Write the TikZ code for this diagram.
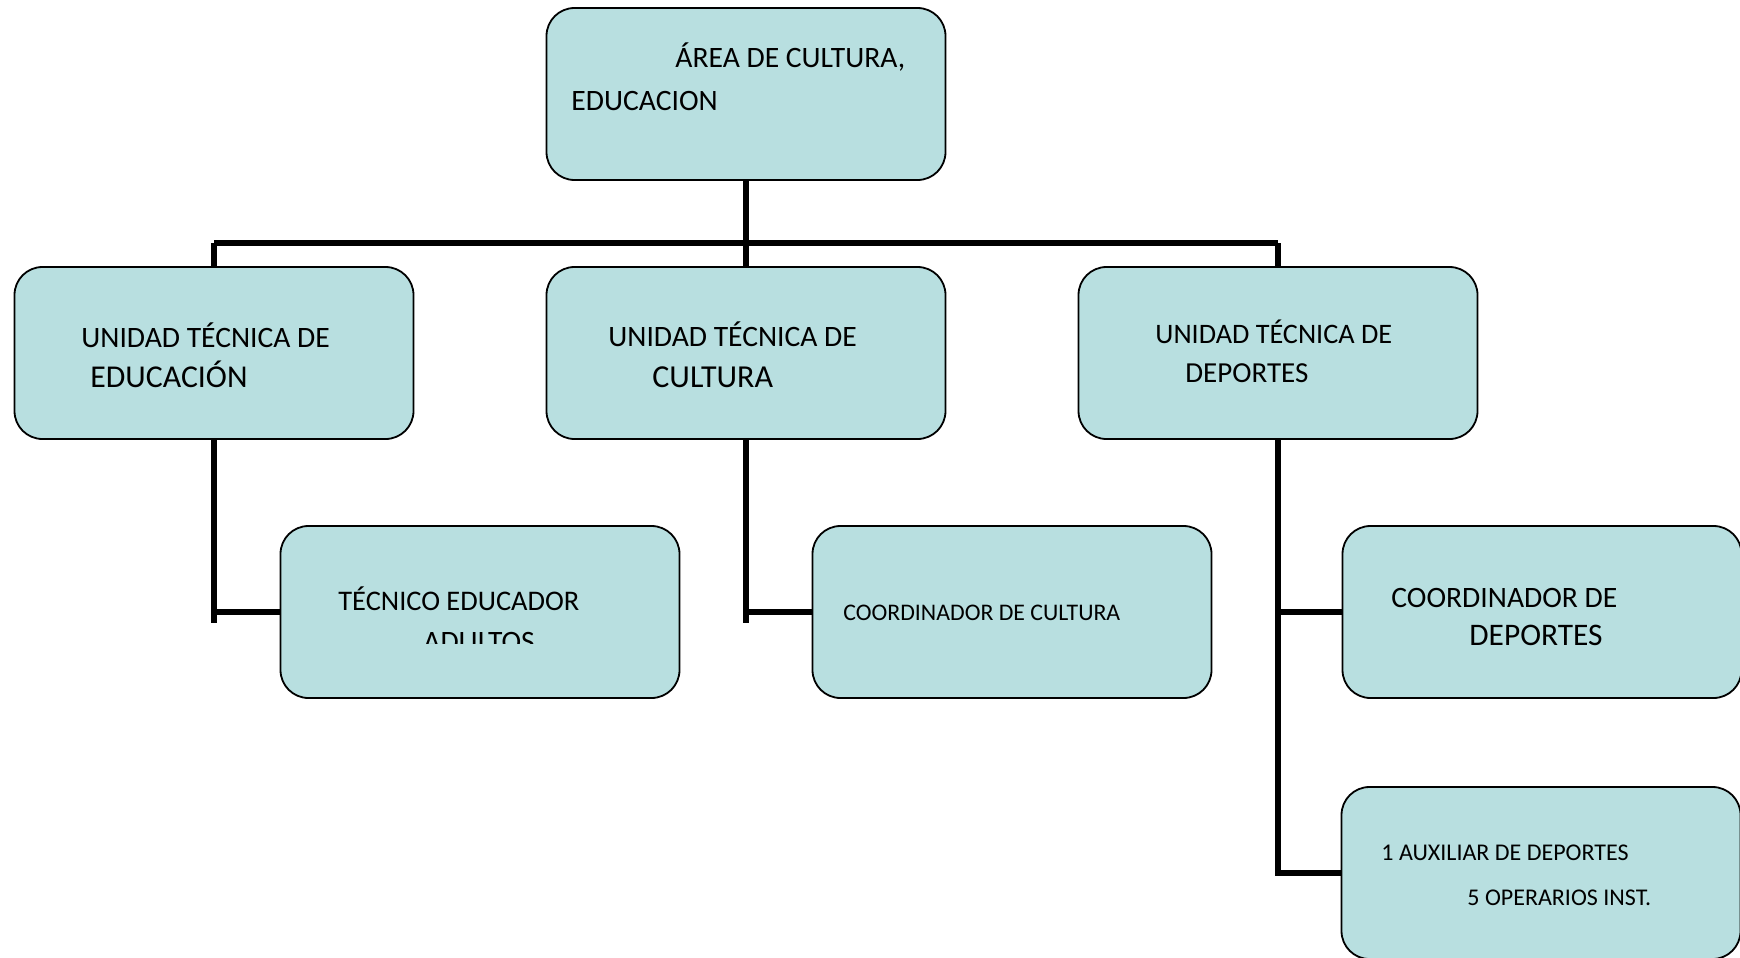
\documentclass[tikz,border=0pt]{standalone}
\usepackage{fontspec}
\setmainfont{Carlito}
\definecolor{cajafill}{HTML}{B8DFE0}

\begin{document}
\begin{tikzpicture}[x=0.5pt, y=-0.5pt,
    caja/.style={draw, line width=0.9pt, fill=cajafill, rounded corners=14pt,
                 minimum width=199.5pt, minimum height=86pt, inner sep=0pt},
    texto/.style={anchor=base west, inner sep=0pt},
    enlace/.style={line width=3pt}]
      \useasboundingbox (0, 0) rectangle (1740, 958);

      % cajas
      \node[caja] (area) at (746, 94) {};
      \node[caja] (uteduc) at (214, 353) {};
      \node[caja] (utcult) at (746, 353) {};
      \node[caja] (utdep) at (1278, 353) {};
      \node[caja] (tecadult) at (480, 612) {};
      \node[caja] (coordcult) at (1012, 612) {};
      \node[caja] (coorddep) at (1542, 612) {};
      \node[caja] (auxdep) at (1541, 873) {};

      % textos
      \node[texto, font=\fontsize{14.8}{17}\selectfont] (area1) at (675, 67) {ÁREA DE CULTURA,};
      \node[texto, font=\fontsize{14.8}{17}\selectfont] (area2) at (571, 110) {EDUCACION};
      \node[texto, font=\fontsize{14.8}{17}\selectfont] (uteduc1) at (81, 347) {UNIDAD TÉCNICA DE};
      \node[texto, font=\fontsize{15.9}{18}\selectfont] (uteduc2) at (90, 387) {EDUCACIÓN};
      \node[texto, font=\fontsize{14.8}{17}\selectfont] (utcult1) at (608, 346) {UNIDAD TÉCNICA DE};
      \node[texto, font=\fontsize{16}{18}\selectfont] (utcult2) at (652, 387) {CULTURA};
      \node[texto, font=\fontsize{14.1}{17}\selectfont] (utdep1) at (1155, 343) {UNIDAD TÉCNICA DE};
      \node[texto, font=\fontsize{14.5}{17}\selectfont] (utdep2) at (1185, 382) {DEPORTES};
      \node[texto, font=\fontsize{14.2}{17}\selectfont] (tecadult1) at (338, 610) {TÉCNICO EDUCADOR};
      \begin{scope}
        \clip (300, 560) rectangle (670, 643);
        \node[texto, font=\fontsize{14.8}{17}\selectfont] (tecadult2) at (423, 651) {ADULTOS};
      \end{scope}
      \node[texto, font=\fontsize{11.9}{14}\selectfont] (coordcult1) at (843, 620) {COORDINADOR DE CULTURA};
      \node[texto, font=\fontsize{14.8}{17}\selectfont] (coorddep1) at (1391, 607) {COORDINADOR DE};
      \node[texto, font=\fontsize{15.7}{18}\selectfont] (coorddep2) at (1469, 645) {DEPORTES};
      \node[texto, font=\fontsize{12}{14}\selectfont] (auxdep1) at (1381, 860) {1 AUXILIAR DE DEPORTES};
      \node[texto, font=\fontsize{12}{14}\selectfont] (auxdep2) at (1467, 905) {5 OPERARIOS INST.};

      % conectores
      \coordinate (busL) at (214, 243);
      \coordinate (busR) at (1278, 243);
      \coordinate (finEduc) at (214, 623);
      \coordinate (finCult) at (746, 623);
      \draw[enlace] (busL) -- (busR);
      \draw[enlace] (area.south) -- (utcult.north);
      \draw[enlace] (busL) -- (uteduc.north);
      \draw[enlace] (busR) -- (utdep.north);
      \draw[enlace] (uteduc.south) -- (finEduc);
      \draw[enlace] (uteduc.south |- tecadult.west) -- (tecadult.west);
      \draw[enlace] (utcult.south) -- (finCult);
      \draw[enlace] (utcult.south |- coordcult.west) -- (coordcult.west);
      \draw[enlace] (utdep.south) |- (auxdep.west);
      \draw[enlace] (utdep.south |- coorddep.west) -- (coorddep.west);
\end{tikzpicture}
\end{document}
